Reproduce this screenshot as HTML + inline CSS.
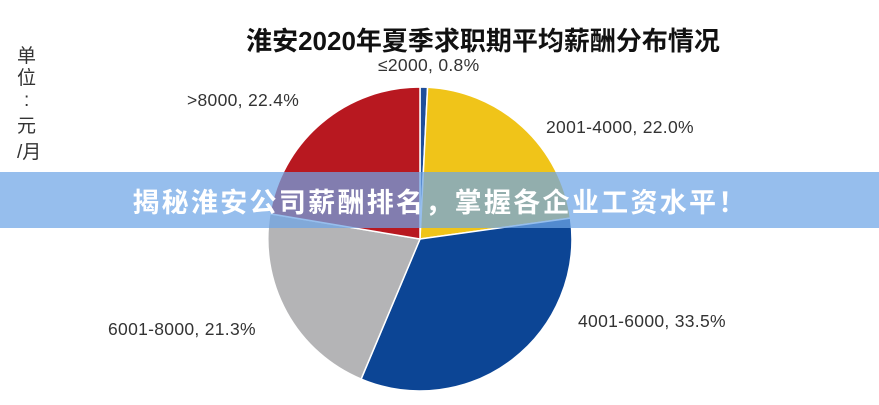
<!DOCTYPE html>
<html><head><meta charset="utf-8"><style>
body{margin:0;width:879px;height:400px;background:#fff;overflow:hidden;font-family:"Liberation Sans","Noto Sans CJK SC",sans-serif}
</style></head><body>
<svg width="879" height="400" xmlns="http://www.w3.org/2000/svg">
<text x="483" y="50" font-size="26" font-weight="bold" text-anchor="middle" fill="#111" font-family="Liberation Sans,Noto Sans CJK SC,sans-serif">淮安2020年夏季求职期平均薪酬分布情况</text>
<g font-size="19" fill="#333" font-family="Liberation Sans,Noto Sans CJK SC,sans-serif">
<text x="17" y="62">单</text><text x="17" y="84">位</text><text x="24" y="106">:</text><text x="17" y="132">元</text><text x="17" y="158">/月</text>
</g>
<g stroke="#fff" stroke-width="1.5">
<path d="M420,239 L420,87 A152,152 0 0 1 427.6,87.2 Z" fill="#1f4e9a"/>
<path d="M420,239 L427.6,87.2 A152,152 0 0 1 570.5,218.1 Z" fill="#f0c419"/>
<path d="M420,239 L570.5,218.1 A152,152 0 0 1 361.1,379.1 Z" fill="#0c4595"/>
<path d="M420,239 L361.1,379.1 A152,152 0 0 1 269.9,213.8 Z" fill="#b4b4b6"/>
<path d="M420,239 L269.9,213.8 A152,152 0 0 1 420,87 Z" fill="#b81820"/>
</g>
<g font-size="17.5" fill="#333" font-family="Liberation Sans,sans-serif" letter-spacing="0.3">
<text x="378" y="71">≤2000, 0.8%</text>
<text x="187" y="106">&gt;8000, 22.4%</text>
<text x="546" y="133">2001-4000, 22.0%</text>
<text x="578" y="327">4001-6000, 33.5%</text>
<text x="108" y="335">6001-8000, 21.3%</text>
</g>
<rect x="0" y="172" width="879" height="56" fill="rgb(110,165,230)" fill-opacity="0.72"/>
<text x="440" y="212" font-size="27" font-weight="bold" text-anchor="middle" fill="#fff" letter-spacing="2.3" font-family="Liberation Sans,Noto Sans CJK SC,sans-serif">揭秘淮安公司薪酬排名，掌握各企业工资水平！</text>
</svg>
</body></html>
